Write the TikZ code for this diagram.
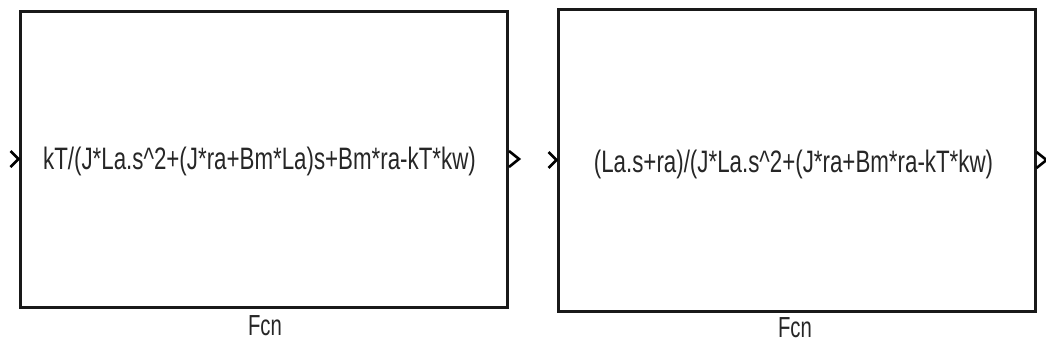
\documentclass[tikz,border=0pt]{standalone}
\usepackage{fontspec}
\setmainfont{Liberation Sans}
\tikzset{
  blk/.style={draw=black!90, line width=3pt, rectangle, inner sep=0pt},
  port/.style={draw=black, line width=2.6pt, line join=miter},
  txt/.style={inner sep=0pt, text=black!85, font=\fontsize{31}{33}\selectfont},
  lbl/.style={inner sep=0pt, text=black!85, font=\fontsize{29}{31}\selectfont}
}
\begin{document}
\begin{tikzpicture}[x=1pt,y=-1pt]
\useasboundingbox (0,0) rectangle (1046,351);
\node[blk, minimum width=487.5pt, minimum height=296pt] (b1) at (263.75,159) {};
\node[blk, minimum width=477pt, minimum height=302pt] (b2) at (796.5,160) {};
\node[txt] (t1) at (259.5,161) {\scalebox{0.72}[1]{kT/(J*La.s\textasciicircum 2+(J*ra+Bm*La)s+Bm*ra-kT*kw)}};
\node[txt] (t2) at (793.5,164) {\scalebox{0.72}[1]{(La.s+ra)/(J*La.s\textasciicircum 2+(J*ra+Bm*ra-kT*kw)}};
\node[lbl] (f1) at (265,326) {\scalebox{0.7}[1]{Fcn}};
\node[lbl] (f2) at (795,328) {\scalebox{0.7}[1]{Fcn}};
% ports
\draw[port] ([xshift=-8pt,yshift=-8pt]b1.west) -- (b1.west) -- ([xshift=-8pt,yshift=8pt]b1.west);
\draw[port] ([yshift=-8pt]b1.east) -- ([xshift=10pt]b1.east) -- ([yshift=8pt]b1.east);
\draw[port] ([xshift=-8pt,yshift=-8pt]b2.west) -- (b2.west) -- ([xshift=-8pt,yshift=8pt]b2.west);
\draw[port] ([yshift=-8pt]b2.east) -- ([xshift=10pt]b2.east) -- ([yshift=8pt]b2.east);
\end{tikzpicture}
\end{document}
